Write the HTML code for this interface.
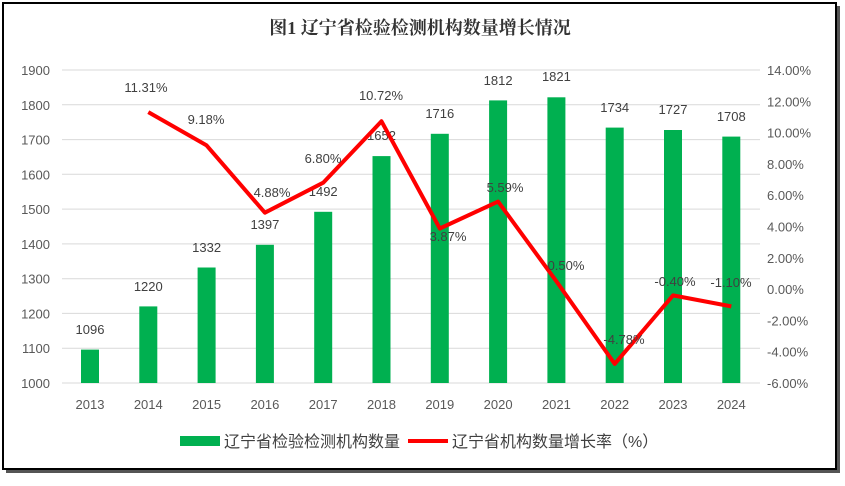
<!DOCTYPE html>
<html><head><meta charset="utf-8"><style>
body{margin:0;background:#fff;width:845px;height:481px;overflow:hidden}
</style></head><body>
<svg width="845" height="481" xmlns="http://www.w3.org/2000/svg" font-family="'Liberation Sans','Noto Sans CJK SC',sans-serif">
<rect x="6" y="6" width="834" height="467" fill="#555"/>
<rect x="3" y="3" width="833" height="466" fill="#fff" stroke="#000" stroke-width="2"/>
<text x="420" y="34" text-anchor="middle" font-size="18" font-weight="bold" fill="#333" font-family="'Liberation Serif','Noto Serif CJK SC',serif">图1 辽宁省检验检测机构数量增长情况</text>
<g stroke="#d9d9d9" stroke-width="1">
<line x1="62" x2="760" y1="70" y2="70"/><line x1="62" x2="760" y1="104.8" y2="104.8"/><line x1="62" x2="760" y1="139.6" y2="139.6"/><line x1="62" x2="760" y1="174.3" y2="174.3"/><line x1="62" x2="760" y1="209.1" y2="209.1"/><line x1="62" x2="760" y1="243.9" y2="243.9"/><line x1="62" x2="760" y1="278.7" y2="278.7"/><line x1="62" x2="760" y1="313.4" y2="313.4"/><line x1="62" x2="760" y1="348.2" y2="348.2"/><line x1="62" x2="760" y1="383" y2="383"/>
</g>
<g font-size="13" fill="#595959" text-anchor="end">
<text x="50" y="75">1900</text><text x="50" y="109.8">1800</text><text x="50" y="144.6">1700</text><text x="50" y="179.3">1600</text><text x="50" y="214.1">1500</text><text x="50" y="248.9">1400</text><text x="50" y="283.7">1300</text><text x="50" y="318.4">1200</text><text x="50" y="353.2">1100</text><text x="50" y="388">1000</text>
</g>
<g font-size="13" fill="#595959" text-anchor="start">
<text x="767" y="75">14.00%</text><text x="767" y="106.3">12.00%</text><text x="767" y="137.6">10.00%</text><text x="767" y="168.9">8.00%</text><text x="767" y="200.2">6.00%</text><text x="767" y="231.5">4.00%</text><text x="767" y="262.8">2.00%</text><text x="767" y="294.1">0.00%</text><text x="767" y="325.4">-2.00%</text><text x="767" y="356.7">-4.00%</text><text x="767" y="388">-6.00%</text>
</g>
<g fill="#00b050">
<rect x="81" y="349.6" width="18" height="33.4"/><rect x="139.3" y="306.4" width="18" height="76.6"/><rect x="197.6" y="267.5" width="18" height="115.5"/><rect x="255.9" y="244.8" width="18" height="138.2"/><rect x="314.2" y="211.8" width="18" height="171.2"/><rect x="372.5" y="156.1" width="18" height="226.9"/><rect x="430.8" y="133.8" width="18" height="249.2"/><rect x="489.1" y="100.4" width="18" height="282.6"/><rect x="547.4" y="97.3" width="18" height="285.7"/><rect x="605.7" y="127.6" width="18" height="255.4"/><rect x="664" y="130" width="18" height="253"/><rect x="722.3" y="136.6" width="18" height="246.4"/>
</g>
<g font-size="13" fill="#404040" text-anchor="middle">
<text x="90" y="334">1096</text><text x="148.3" y="291">1220</text><text x="206.6" y="252">1332</text><text x="264.9" y="229">1397</text><text x="323.2" y="196">1492</text><text x="381.5" y="140">1652</text><text x="439.8" y="118">1716</text><text x="498.1" y="85">1812</text><text x="556.4" y="81">1821</text><text x="614.7" y="112">1734</text><text x="673" y="114">1727</text><text x="731.3" y="121">1708</text>
</g>
<polyline fill="none" stroke="#ff0000" stroke-width="4" stroke-linejoin="round" points="148.3,112.1 206.6,145.4 264.9,212.7 323.2,182.7 381.5,121.3 439.8,228.5 498.1,201.6 556.4,281.3 614.7,363.9 673,295.4 731.3,306.4"/>
<g font-size="13" fill="#404040" text-anchor="middle">
<text x="146" y="92">11.31%</text><text x="206" y="124">9.18%</text><text x="272" y="197">4.88%</text><text x="323" y="163">6.80%</text><text x="381" y="100">10.72%</text><text x="448" y="241">3.87%</text><text x="505" y="192">5.59%</text><text x="566" y="270">0.50%</text><text x="624" y="344">-4.78%</text><text x="675" y="286">-0.40%</text><text x="731" y="287">-1.10%</text>
</g>
<g font-size="13" fill="#595959" text-anchor="middle">
<text x="90" y="409">2013</text><text x="148.3" y="409">2014</text><text x="206.6" y="409">2015</text><text x="264.9" y="409">2016</text><text x="323.2" y="409">2017</text><text x="381.5" y="409">2018</text><text x="439.8" y="409">2019</text><text x="498.1" y="409">2020</text><text x="556.4" y="409">2021</text><text x="614.7" y="409">2022</text><text x="673" y="409">2023</text><text x="731.3" y="409">2024</text>
</g>
<rect x="180" y="436" width="40" height="10" fill="#00b050"/>
<text x="224" y="447" font-size="16" fill="#404040">辽宁省检验检测机构数量</text>
<line x1="408" x2="448" y1="441" y2="441" stroke="#ff0000" stroke-width="4"/>
<text x="452" y="447" font-size="16" fill="#404040">辽宁省机构数量增长率（%）</text>
</svg>
</body></html>
